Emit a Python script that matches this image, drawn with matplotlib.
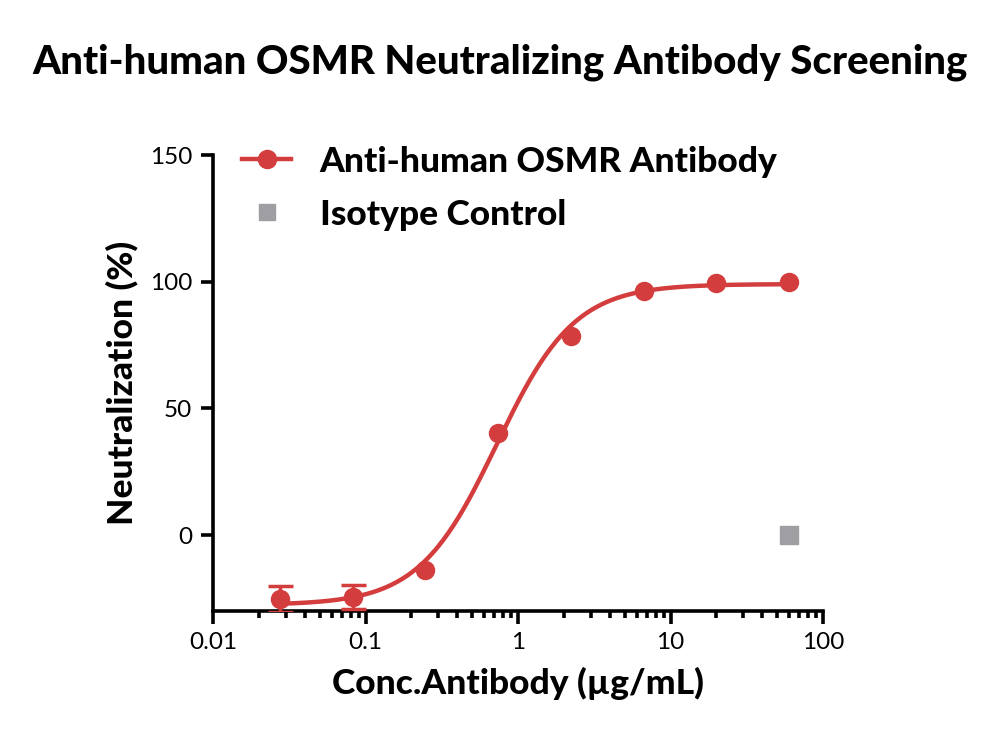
import numpy as np
import matplotlib
matplotlib.use('Agg')
import matplotlib.pyplot as plt
from matplotlib.lines import Line2D
from matplotlib.ticker import LogLocator, NullFormatter

conc = [0.0274, 0.0823, 0.247, 0.741, 2.22, 6.67, 20, 60]
neut = [-25.2, -24.4, -13.8, 40.2, 78.7, 96.5, 99.6, 100.0]
err = [5.0, 4.7, 0, 0, 0, 0, 0, 0]
iso_conc = [60]
iso_neut = [0.0]

red = '#D43D3D'
grey = '#9E9EA3'

# 4PL fit: grid over EC50 / hill, bottom & top by least squares
x = np.array(conc)
y = np.array(neut)
best = None
for lec in np.linspace(-1.5, 0.8, 231):
    for h in np.linspace(0.5, 3.0, 126):
        s = 1.0 / (1.0 + (10**lec / x) ** h)
        A = np.column_stack([1 - s, s])
        coef, *_ = np.linalg.lstsq(A, y, rcond=None)
        r = np.sum((A @ coef - y) ** 2)
        if best is None or r < best[0]:
            best = (r, lec, h, coef)
_, lec, h, (bot, top) = best
xf = np.logspace(np.log10(0.0274), np.log10(60), 300)
yf = bot + (top - bot) / (1 + (10**lec / xf) ** h)

plt.rcParams['font.family'] = ['Lato', 'DejaVu Sans']
fig = plt.figure(figsize=(10, 7.55), dpi=100)
ax = fig.add_axes([0.213, 0.1907, 0.61, 0.604])

ax.plot(xf, yf, color=red, lw=3.2, zorder=2)
# error bars only where there is a spread
ex = [c for c, e in zip(conc, err) if e > 0]
ey = [v for v, e in zip(neut, err) if e > 0]
ee = [e for e in err if e > 0]
ax.errorbar(ex, ey, yerr=ee, fmt='none', ecolor=red, elinewidth=2.5,
            capsize=9, capthick=2.5, zorder=3)
ax.plot(conc, neut, 'o', color=red, ms=13, zorder=3)
ax.plot(iso_conc, iso_neut, 's', color=grey, ms=13, zorder=3)

ax.set_xscale('log')
ax.set_xlim(0.01, 100)
ax.set_ylim(-30, 150)
ax.set_yticks([0, 50, 100, 150])
ax.set_xticks([0.01, 0.1, 1, 10, 100])
ax.set_xticklabels(['0.01', '0.1', '1', '10', '100'])
ax.xaxis.set_minor_locator(LogLocator(base=10, subs=np.arange(2, 10)))
ax.xaxis.set_minor_formatter(NullFormatter())

for s in ['top', 'right']:
    ax.spines[s].set_visible(False)
for s in ['left', 'bottom']:
    ax.spines[s].set_linewidth(2.6)
ax.tick_params(axis='both', which='major', width=2.6, length=9, labelsize=17.5, pad=6)
ax.tick_params(axis='x', which='minor', width=2.6, length=5)

ax.set_xlabel('Conc.Antibody (µg/mL)', fontsize=25.5, fontweight='black', labelpad=10)
ax.set_ylabel('Neutralization (%)', fontsize=25.5, fontweight='black', labelpad=8)
fig.suptitle('Anti-human OSMR Neutralizing Antibody Screening', fontsize=29,
             fontweight='black', y=0.942)

handles = [Line2D([], [], color=red, lw=3.2, marker='o', ms=13),
           Line2D([], [], color=grey, lw=0, marker='s', ms=11)]
ax.legend(handles, ['Anti-human OSMR Antibody', 'Isotype Control'],
          loc='upper left', bbox_to_anchor=(-0.005, 1.09), frameon=False,
          prop={'size': 25.5, 'weight': 'black'}, handlelength=1.4,
          handletextpad=0.8, labelspacing=0.59)

fig.savefig('out.png', dpi=100)
